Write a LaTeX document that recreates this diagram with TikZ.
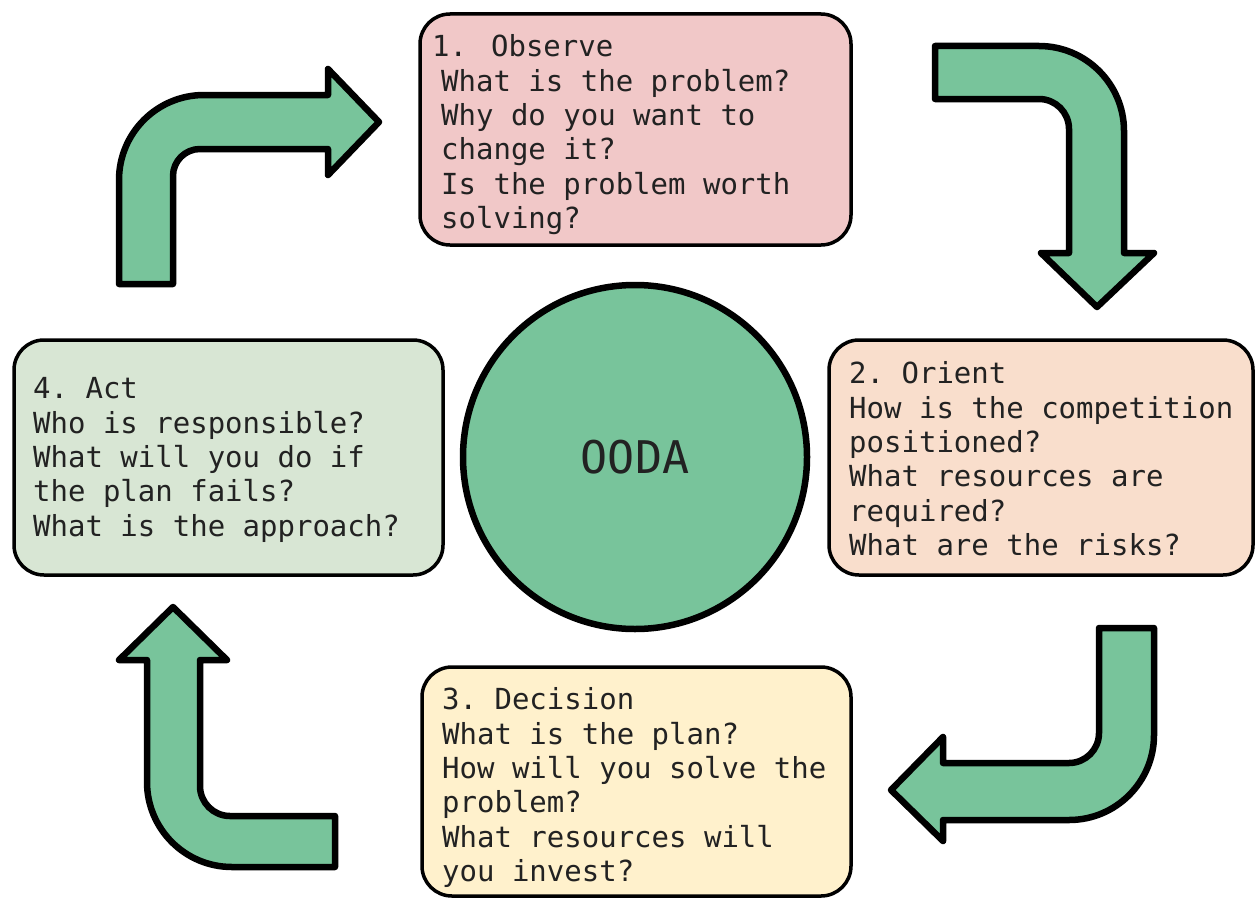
\documentclass[tikz,border=0pt]{standalone}
\usepackage{fontspec}
\newfontfamily\oodamono{DejaVu Sans Mono}
\definecolor{observefill}{HTML}{F1C8C8}
\definecolor{orientfill}{HTML}{F9DECC}
\definecolor{decidefill}{HTML}{FFF1CC}
\definecolor{actfill}{HTML}{D8E6D4}
\definecolor{loopgreen}{HTML}{78C49B}
\definecolor{inkgrey}{HTML}{222222}
\begin{document}
\begin{tikzpicture}[x=1pt,y=-1pt,
  phasebox/.style={draw=black, line width=3.5pt, rounded corners=30pt, inner sep=0pt},
  phasetext/.style={anchor=north west, inner sep=0pt, align=left, text=inkgrey,
    font=\oodamono\fontsize{29pt}{34.4pt}\selectfont\frenchspacing, execute at begin node=\strut},
  bentarrow/.style={draw=black, fill=loopgreen, line width=6.5pt, line join=round}]
\useasboundingbox (0,0) rectangle (1257,899);
% bent arrows between the phases
\draw[bentarrow] (146,284) -- (119,284) [rounded corners=85pt] -- (119,95) [sharp corners] -- (328,95) -- (328,69) -- (379,122) -- (328,175) -- (328,149) [rounded corners=27pt] -- (173,149) [sharp corners] -- (173,284) -- cycle;
\draw[bentarrow] (935,72) -- (935,46) [rounded corners=85pt] -- (1124,46) [sharp corners] -- (1124,253) -- (1154,253) -- (1097,307) -- (1041,253) -- (1069,253) [rounded corners=30pt] -- (1069,99) [sharp corners] -- (935,99) -- cycle;
\draw[bentarrow] (1126,628) -- (1154,628) [rounded corners=85pt] -- (1154,820) [sharp corners] -- (943,820) -- (943,841) -- (891,790) -- (943,737) -- (943,763) [rounded corners=30pt] -- (1099,763) [sharp corners] -- (1099,628) -- cycle;
\draw[bentarrow] (335,841) -- (335,867) [rounded corners=85pt] -- (147,867) [sharp corners] -- (147,660) -- (119,660) -- (173,607) -- (227,660) -- (200,660) [rounded corners=30pt] -- (200,816) [sharp corners] -- (335,816) -- cycle;
% the four phases
\node[phasebox, fill=observefill, minimum width=431pt, minimum height=231pt] (observe) at (635.5,129.5) {};
\node[phasetext] (observe-text) at (441,34.4) {\hspace*{-9pt}1.\hspace{24pt}Observe\\What is the problem?\\Why do you want to\\change it?\\Is the problem worth\\solving?};
\node[phasebox, fill=orientfill, minimum width=424pt, minimum height=235pt] (orient) at (1041,457.5) {};
\node[phasetext] (orient-text) at (849,361.4) {2. Orient\\How is the competition\\positioned?\\What resources are\\required?\\What are the risks?};
\node[phasebox, fill=decidefill, minimum width=429pt, minimum height=229pt] (decide) at (636.5,781.5) {};
\node[phasetext] (decide-text) at (442,687.4) {3. Decision\\What is the plan?\\How will you solve the\\problem?\\What resources will\\you invest?};
\node[phasebox, fill=actfill, minimum width=429pt, minimum height=235pt] (act) at (228.5,457.5) {};
\node[phasetext] (act-text) at (33,377.4) {4. Act\\Who is responsible?\\What will you do if\\the plan fails?\\What is the approach?};
% centre
\node[circle, draw=black, line width=6.5pt, fill=loopgreen, minimum size=344pt, inner sep=0pt,
  font=\oodamono\fontsize{45pt}{52pt}\selectfont, text=inkgrey] (ooda) at (635,457) {OODA};
\end{tikzpicture}
\end{document}
